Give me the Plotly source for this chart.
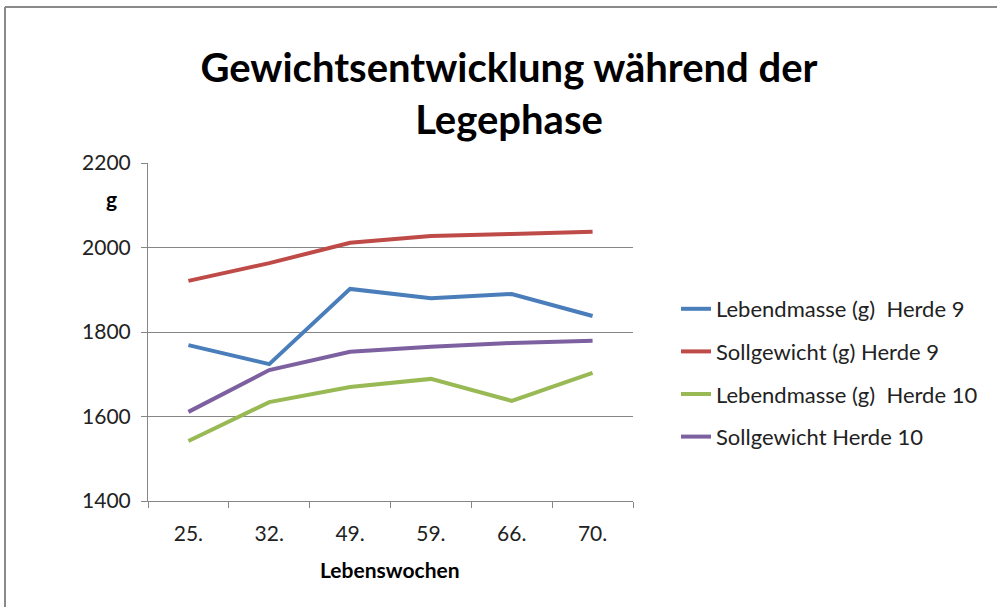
import plotly.graph_objects as go

weeks = ["25.", "32.", "49.", "59.", "66.", "70."]
lebend_h9 = [1769, 1724, 1902, 1880, 1890, 1838]
soll_h9 = [1921, 1963, 2011, 2027, 2032, 2037]
lebend_h10 = [1542, 1634, 1670, 1689, 1637, 1703]
soll_h10 = [1611, 1710, 1753, 1765, 1774, 1779]

names = ["Lebendmasse (g)  Herde 9", "Sollgewicht (g) Herde 9",
         "Lebendmasse (g)  Herde 10", "Sollgewicht Herde 10"]
colors = ["#4A7EBB", "#BE4B48", "#98B954", "#7D60A0"]
series = [lebend_h9, soll_h9, lebend_h10, soll_h10]

FONT = "Lato"
W, H = 997, 607
L, R, T, B = 148, 633, 163, 501

fig = go.Figure()
for i, (nm, col, ys) in enumerate(zip(names, colors, series)):
    fig.add_trace(go.Scatter(x=weeks, y=ys, name=nm, mode="lines",
                             line=dict(color=col, width=4),
                             legendgroup=f"g{i}"))

def px_x(p):
    return (p - L) / (R - L)

def px_y(p):
    return (B - p) / (B - T)

border = dict(color="#8a8a8a", width=2)

fig.update_layout(
    width=W, height=H,
    margin=dict(l=L, r=W - R, t=T, b=H - B),
    paper_bgcolor="white", plot_bgcolor="white",
    font=dict(family=FONT, size=21, color="#222222"),
    title=dict(text="<b>Gewichtsentwicklung während der<br>Legephase</b>",
               x=509 / W, xanchor="center", xref="container",
               y=1 - 82 / H, yanchor="middle", yref="container",
               font=dict(family=FONT, size=40, color="black")),
    showlegend=True,
    legend=dict(x=px_x(676), xanchor="left", y=px_y(288), yanchor="top",
                traceorder="grouped", tracegroupgap=11,
                font=dict(family=FONT, size=22, color="#222222"),
                bgcolor="rgba(0,0,0,0)"),
    xaxis=dict(type="category", showgrid=False, showline=True,
               linecolor="#868686", linewidth=1, ticks="outside",
               tickson="boundaries", ticklen=6, tickcolor="#868686",
               tickfont=dict(size=21), ticklabelstandoff=14, range=[-0.5, 5.5]),
    yaxis=dict(range=[1400, 2200], tickvals=[1400, 1600, 1800, 2000, 2200],
               showgrid=True, gridcolor="#868686", gridwidth=1,
               showline=True, linecolor="#868686", linewidth=1,
               ticks="outside", ticklen=6, tickcolor="#868686",
               tickfont=dict(size=21), ticklabelstandoff=6, zeroline=False),
    annotations=[
        dict(text="<b>g</b>", xref="paper", yref="paper", x=px_x(111), y=px_y(198),
             xanchor="center", yanchor="middle",
             showarrow=False, font=dict(family=FONT, size=21, color="black")),
        dict(text="<b>Lebenswochen</b>", xref="paper", yref="paper",
             x=px_x(390), y=px_y(569), xanchor="center", yanchor="middle",
             showarrow=False, font=dict(family=FONT, size=21, color="black")),
    ],
    shapes=[
        dict(type="line", xref="paper", yref="paper",
             x0=px_x(5), x1=px_x(5), y0=px_y(607), y1=px_y(7), line=border, layer="below"),
        dict(type="line", xref="paper", yref="paper",
             x0=px_x(5), x1=px_x(997), y0=px_y(7), y1=px_y(7), line=border, layer="below"),
    ],
)

fig.write_html("out.html", config={"displayModeBar": False},
               post_script="document.body.style.margin='0';document.body.style.overflow='hidden';")
